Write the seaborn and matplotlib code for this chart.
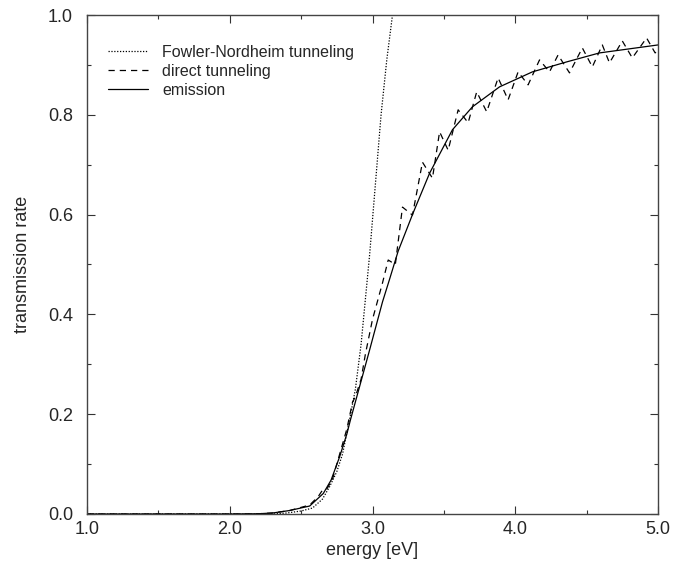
import matplotlib
matplotlib.use("Agg")
import matplotlib.pyplot as plt
import seaborn as sns
import pandas as pd
from matplotlib.ticker import MultipleLocator, FormatStrFormatter

# ---- data ----
fn_energy = [1.0, 2.0, 2.3, 2.4, 2.5, 2.58, 2.65, 2.70, 2.75, 2.79, 2.84, 2.88, 2.92,
             2.95, 2.98, 3.02, 3.06, 3.10, 3.14, 5.0]
fn_rate = [0.0, 0.0, 0.0, 0.002, 0.006, 0.012, 0.030, 0.055, 0.085, 0.12, 0.19, 0.25, 0.34,
           0.43, 0.52, 0.66, 0.80, 0.91, 1.0, 1.0]

direct_energy = [1.0, 2.0, 2.2, 2.3, 2.42, 2.56, 2.62, 2.65, 2.68, 2.72, 2.77, 2.82, 2.86,
                 2.88, 2.92, 2.95, 3.00, 3.07, 3.11, 3.16, 3.21, 3.28, 3.35, 3.42, 3.47,
                 3.53, 3.60, 3.67, 3.73, 3.80, 3.88, 3.95, 4.02, 4.09, 4.17, 4.24, 4.30,
                 4.38, 4.47, 4.54, 4.61, 4.66, 4.75, 4.82, 4.92, 4.98, 5.0]
direct_rate = [0.0, 0.0, 0.0005, 0.002, 0.007, 0.018, 0.035, 0.048, 0.050, 0.07, 0.12, 0.17,
               0.224, 0.235, 0.27, 0.32, 0.39, 0.463, 0.509, 0.50, 0.615, 0.599, 0.705,
               0.673, 0.766, 0.729, 0.810, 0.784, 0.846, 0.806, 0.874, 0.830, 0.886, 0.860,
               0.910, 0.886, 0.920, 0.884, 0.934, 0.896, 0.940, 0.904, 0.948, 0.914, 0.954,
               0.924, 0.93]

emission_energy = [1.0, 2.0, 2.2, 2.3, 2.42, 2.56, 2.655, 2.71, 2.77, 2.82, 2.845, 2.936,
                   2.98, 3.07, 3.118, 3.18, 3.284, 3.40, 3.56, 3.70, 3.89, 4.12, 4.36,
                   4.59, 5.0]
emission_rate = [0.0, 0.0, 0.0005, 0.002, 0.007, 0.016, 0.041, 0.068, 0.115, 0.16, 0.188,
                 0.283, 0.329, 0.425, 0.469, 0.527, 0.603, 0.683, 0.770, 0.816, 0.856,
                 0.886, 0.906, 0.924, 0.940]

series_names = ["Fowler-Nordheim tunneling", "direct tunneling", "emission"]
x_ticks = [1.0, 2.0, 3.0, 4.0, 5.0]
y_ticks = [0.0, 0.2, 0.4, 0.6, 0.8, 1.0]

# ---- style ----
sns.set_theme(style="ticks")
plt.rcParams["font.family"] = ["Liberation Sans", "DejaVu Sans"]

fig = plt.figure(figsize=(6.75, 5.75), dpi=100)
ax = fig.add_axes([87 / 675, 1 - 514 / 575, (658 - 87) / 675, (514 - 15) / 575])

df_fn = pd.DataFrame({"energy": fn_energy, "rate": fn_rate})
df_dt = pd.DataFrame({"energy": direct_energy, "rate": direct_rate})
df_em = pd.DataFrame({"energy": emission_energy, "rate": emission_rate})

sns.lineplot(data=df_fn, x="energy", y="rate", ax=ax, color="black", lw=0.9,
             linestyle=(0, (1, 1.3)), estimator=None, sort=False, label=series_names[0])
sns.lineplot(data=df_dt, x="energy", y="rate", ax=ax, color="black", lw=0.9,
             linestyle=(0, (5, 4)), estimator=None, sort=False, label=series_names[1])
sns.lineplot(data=df_em, x="energy", y="rate", ax=ax, color="black", lw=0.9,
             linestyle="-", estimator=None, sort=False, label=series_names[2])

ax.set_xlim(1.0, 5.0)
ax.set_ylim(0.0, 1.0)
ax.set_xticks(x_ticks)
ax.set_yticks(y_ticks)
ax.xaxis.set_minor_locator(MultipleLocator(0.5))
ax.yaxis.set_minor_locator(MultipleLocator(0.1))
ax.xaxis.set_major_formatter(FormatStrFormatter("%.1f"))
ax.yaxis.set_major_formatter(FormatStrFormatter("%.1f"))
ax.tick_params(which="both", direction="in", top=True, right=True, color="#333333",
               width=0.8, labelsize=13)
ax.tick_params(axis="x", which="both", pad=5)
ax.tick_params(axis="y", which="both", pad=10)
ax.tick_params(which="major", length=5.5)
ax.tick_params(which="minor", length=3)
for s in ax.spines.values():
    s.set_visible(True)
    s.set_color("#444444")
    s.set_linewidth(1.0)

ax.set_xlabel("energy [eV]", fontsize=13, labelpad=3)
ax.set_ylabel("transmission rate", fontsize=13, labelpad=12)

leg = ax.legend(loc="upper left", bbox_to_anchor=(0.025, 0.953), frameon=False,
                fontsize=11.5, handlelength=2.5, handletextpad=0.9, labelspacing=0.25,
                borderaxespad=0.0)

fig.savefig("out.png", dpi=100)
